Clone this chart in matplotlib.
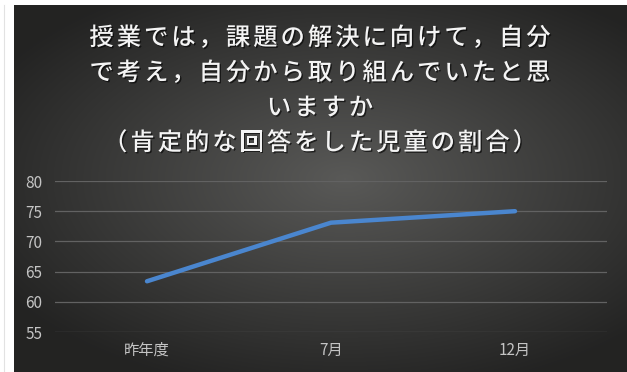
import numpy as np
import matplotlib
matplotlib.use('Agg')
import matplotlib.pyplot as plt
import matplotlib.patheffects as pe

plt.rcParams['font.family'] = ['Noto Sans CJK JP', 'DejaVu Sans']

categories = ['昨年度', '7月', '12月']
values = [63.4, 73.1, 75.0]
yticks = [55, 60, 65, 70, 75, 80]
title_lines = ['授業では，課題の解決に向けて，自分',
               'で考え，自分から取り組んでいたと思',
               'いますか',
               '（肯定的な回答をした児童の割合）']

W, H = 627, 372
fig = plt.figure(figsize=(W / 100, H / 100), dpi=100, facecolor='white')
fig.add_artist(plt.Line2D([3.5 / W, 3.5 / W], [0, 1 - 5 / H], color='#e2e2e2', lw=0.8))

# dark panel with radial gradient
bg = fig.add_axes([14 / W, 0, 1 - 14 / W, 1 - 5 / H])
gx, gy = np.meshgrid(np.linspace(-1, 1, 400), np.linspace(-1, 1, 240))
r = np.sqrt(((gx - 0.08) * 1.0) ** 2 + ((gy + 0.05) * 1.1) ** 2)
shade = 0.35 - 0.21 * np.clip(r / 1.3, 0, 1)
img = np.dstack([shade, shade, shade * 0.98])
bg.imshow(img, aspect='auto', extent=[0, 1, 0, 1], interpolation='bilinear')
bg.set_axis_off()

ax = fig.add_axes([55 / W, 40 / H, (607 - 55) / W, (191 - 40) / H])
ax.patch.set_alpha(0)
x = np.arange(len(categories))
ax.plot(x, values, color='#4a86cf', lw=3.2, solid_capstyle='round', solid_joinstyle='round', zorder=3)
ax.set_xlim(-0.5, len(categories) - 0.5)
ax.set_ylim(55, 80)
ax.set_yticks(yticks)
ax.set_xticks(x)
ax.set_xticklabels(categories)
ax.grid(axis='y', color='#626262', lw=0.9)
ax.set_axisbelow(True)
for s in ax.spines.values():
    s.set_visible(False)
ax.tick_params(length=0, colors='#c4c4c4', labelsize=11)
ax.tick_params(axis='y', pad=9)
ax.tick_params(axis='x', pad=7)

# title: spaced-out characters, one text per glyph
shadow = [pe.withSimplePatchShadow(offset=(1, -1), shadow_rgbFace='black', alpha=0.6)]
step = 27.3
for i, line in enumerate(title_lines):
    yc = [38, 73, 108, 143][i]
    n = len(line)
    for j, ch in enumerate(line):
        xc = 320 + (j - (n - 1) / 2) * step
        fig.text(xc / W, 1 - yc / H, ch, ha='center', va='center', color='#f4f4f4',
                 fontsize=17.5, fontweight='medium', path_effects=shadow)

fig.savefig('out.png', dpi=100, facecolor='white')
